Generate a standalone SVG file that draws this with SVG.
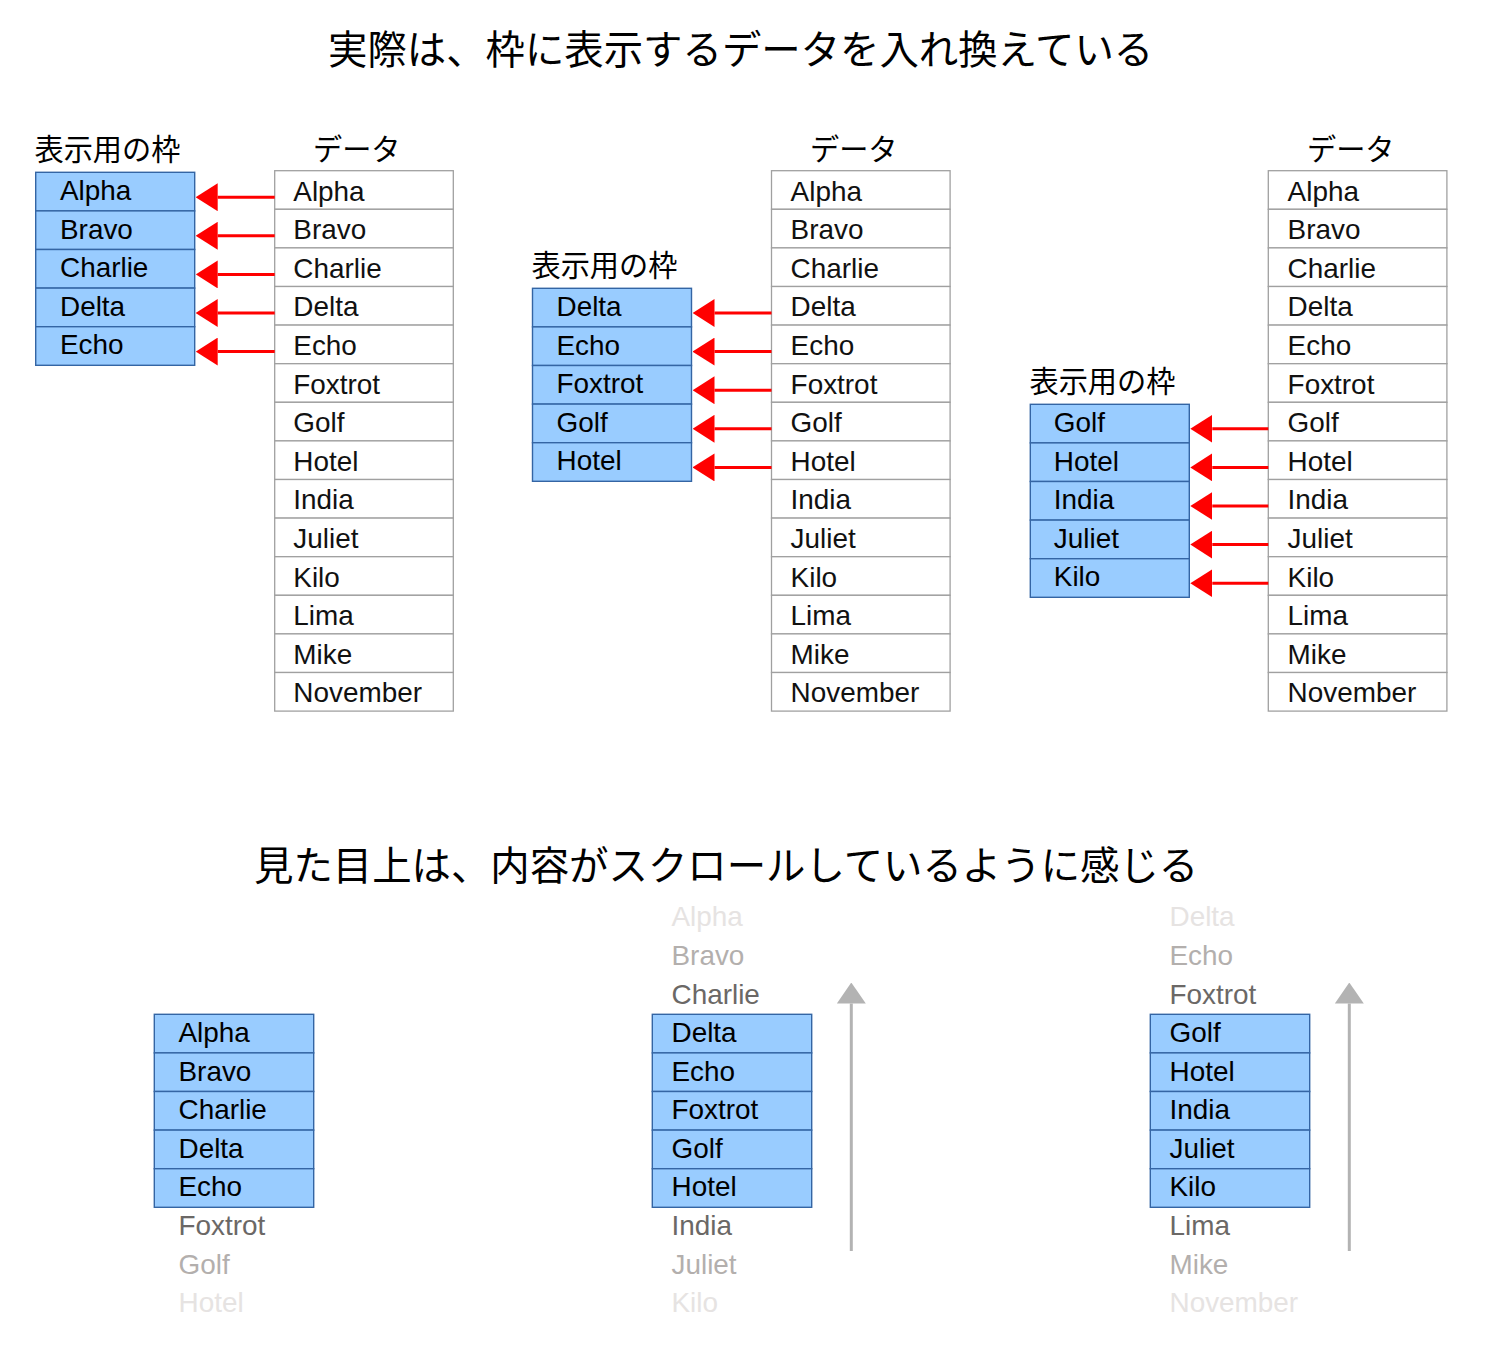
<svg xmlns="http://www.w3.org/2000/svg" width="1491" height="1349" viewBox="0 0 1491 1349">
<style>
.title{font-family:"Noto Sans CJK JP","Noto Sans",sans-serif;font-size:39.4px;fill:#000}
.lbl{font-family:"Noto Sans CJK JP","Noto Sans",sans-serif;font-size:29.2px;fill:#000}
.t{font-family:"Liberation Sans",Arial,sans-serif;font-size:27.9px}
.dt{fill:#111}
.ft{fill:#000}
.drow{fill:#fff;stroke:#a0a0a0;stroke-width:1.3}
.frow{fill:#99ccff;stroke:#3465a4;stroke-width:1.4}
.l1{fill:#6b6866}
.l2{fill:#b3afad}
.l3{fill:#e6e3e2}
.red{stroke:#ff0000;stroke-width:3;fill:none}
.gray{stroke:#b3b3b3;stroke-width:3;fill:none}
</style>
<defs>
<marker id="ra" markerUnits="userSpaceOnUse" viewBox="0 0 22 28" refX="0" refY="14" markerWidth="22" markerHeight="28" orient="auto">
<path d="M0,0 L22,14 L0,28 Z" fill="#ff0000"/>
</marker>
<marker id="ga" markerUnits="userSpaceOnUse" viewBox="0 0 21 29" refX="0" refY="14.5" markerWidth="21" markerHeight="29" orient="auto">
<path d="M0,0 L21,14.5 L0,29 Z" fill="#b3b3b3"/>
</marker>
</defs>

<text class="title" x="328" y="63.5">実際は、枠に表示するデータを入れ換えている</text>
<text class="title" x="254" y="879.5">見た目上は、内容がスクロールしているように感じる</text>

<g id="label-frame1"><text class="lbl" x="34.5" y="159.5">表示用の枠</text></g>
<g id="label-frame2"><text class="lbl" x="531.5" y="275.5">表示用の枠</text></g>
<g id="label-frame3"><text class="lbl" x="1029.5" y="391.5">表示用の枠</text></g>
<g id="label-data1"><text class="lbl" x="313" y="159.5">データ</text></g>
<g id="label-data2"><text class="lbl" x="810" y="159.5">データ</text></g>
<g id="label-data3"><text class="lbl" x="1307" y="159.5">データ</text></g>

<!-- data table 1 -->
<g id="data1">
<rect class="drow" x="274.7" y="170.7" width="178.6" height="38.6"/>
<rect class="drow" x="274.7" y="209.3" width="178.6" height="38.6"/>
<rect class="drow" x="274.7" y="247.9" width="178.6" height="38.6"/>
<rect class="drow" x="274.7" y="286.5" width="178.6" height="38.6"/>
<rect class="drow" x="274.7" y="325.1" width="178.6" height="38.6"/>
<rect class="drow" x="274.7" y="363.7" width="178.6" height="38.6"/>
<rect class="drow" x="274.7" y="402.3" width="178.6" height="38.6"/>
<rect class="drow" x="274.7" y="440.9" width="178.6" height="38.6"/>
<rect class="drow" x="274.7" y="479.5" width="178.6" height="38.6"/>
<rect class="drow" x="274.7" y="518.1" width="178.6" height="38.6"/>
<rect class="drow" x="274.7" y="556.7" width="178.6" height="38.6"/>
<rect class="drow" x="274.7" y="595.3" width="178.6" height="38.6"/>
<rect class="drow" x="274.7" y="633.9" width="178.6" height="38.6"/>
<rect class="drow" x="274.7" y="672.5" width="178.6" height="38.6"/>
<g class="t dt">
<text x="293.3" y="200.5">Alpha</text>
<text x="293.3" y="239.1">Bravo</text>
<text x="293.3" y="277.7">Charlie</text>
<text x="293.3" y="316.3">Delta</text>
<text x="293.3" y="354.9">Echo</text>
<text x="293.3" y="393.5">Foxtrot</text>
<text x="293.3" y="432.1">Golf</text>
<text x="293.3" y="470.7">Hotel</text>
<text x="293.3" y="509.3">India</text>
<text x="293.3" y="547.9">Juliet</text>
<text x="293.3" y="586.5">Kilo</text>
<text x="293.3" y="625.1">Lima</text>
<text x="293.3" y="663.7">Mike</text>
<text x="293.3" y="702.3">November</text>
</g>
</g>

<!-- data table 2 -->
<g id="data2">
<rect class="drow" x="771.5" y="170.7" width="178.6" height="38.6"/>
<rect class="drow" x="771.5" y="209.3" width="178.6" height="38.6"/>
<rect class="drow" x="771.5" y="247.9" width="178.6" height="38.6"/>
<rect class="drow" x="771.5" y="286.5" width="178.6" height="38.6"/>
<rect class="drow" x="771.5" y="325.1" width="178.6" height="38.6"/>
<rect class="drow" x="771.5" y="363.7" width="178.6" height="38.6"/>
<rect class="drow" x="771.5" y="402.3" width="178.6" height="38.6"/>
<rect class="drow" x="771.5" y="440.9" width="178.6" height="38.6"/>
<rect class="drow" x="771.5" y="479.5" width="178.6" height="38.6"/>
<rect class="drow" x="771.5" y="518.1" width="178.6" height="38.6"/>
<rect class="drow" x="771.5" y="556.7" width="178.6" height="38.6"/>
<rect class="drow" x="771.5" y="595.3" width="178.6" height="38.6"/>
<rect class="drow" x="771.5" y="633.9" width="178.6" height="38.6"/>
<rect class="drow" x="771.5" y="672.5" width="178.6" height="38.6"/>
<g class="t dt">
<text x="790.6" y="200.5">Alpha</text>
<text x="790.6" y="239.1">Bravo</text>
<text x="790.6" y="277.7">Charlie</text>
<text x="790.6" y="316.3">Delta</text>
<text x="790.6" y="354.9">Echo</text>
<text x="790.6" y="393.5">Foxtrot</text>
<text x="790.6" y="432.1">Golf</text>
<text x="790.6" y="470.7">Hotel</text>
<text x="790.6" y="509.3">India</text>
<text x="790.6" y="547.9">Juliet</text>
<text x="790.6" y="586.5">Kilo</text>
<text x="790.6" y="625.1">Lima</text>
<text x="790.6" y="663.7">Mike</text>
<text x="790.6" y="702.3">November</text>
</g>
</g>

<!-- data table 3 -->
<g id="data3">
<rect class="drow" x="1268.3" y="170.7" width="178.6" height="38.6"/>
<rect class="drow" x="1268.3" y="209.3" width="178.6" height="38.6"/>
<rect class="drow" x="1268.3" y="247.9" width="178.6" height="38.6"/>
<rect class="drow" x="1268.3" y="286.5" width="178.6" height="38.6"/>
<rect class="drow" x="1268.3" y="325.1" width="178.6" height="38.6"/>
<rect class="drow" x="1268.3" y="363.7" width="178.6" height="38.6"/>
<rect class="drow" x="1268.3" y="402.3" width="178.6" height="38.6"/>
<rect class="drow" x="1268.3" y="440.9" width="178.6" height="38.6"/>
<rect class="drow" x="1268.3" y="479.5" width="178.6" height="38.6"/>
<rect class="drow" x="1268.3" y="518.1" width="178.6" height="38.6"/>
<rect class="drow" x="1268.3" y="556.7" width="178.6" height="38.6"/>
<rect class="drow" x="1268.3" y="595.3" width="178.6" height="38.6"/>
<rect class="drow" x="1268.3" y="633.9" width="178.6" height="38.6"/>
<rect class="drow" x="1268.3" y="672.5" width="178.6" height="38.6"/>
<g class="t dt">
<text x="1287.6" y="200.5">Alpha</text>
<text x="1287.6" y="239.1">Bravo</text>
<text x="1287.6" y="277.7">Charlie</text>
<text x="1287.6" y="316.3">Delta</text>
<text x="1287.6" y="354.9">Echo</text>
<text x="1287.6" y="393.5">Foxtrot</text>
<text x="1287.6" y="432.1">Golf</text>
<text x="1287.6" y="470.7">Hotel</text>
<text x="1287.6" y="509.3">India</text>
<text x="1287.6" y="547.9">Juliet</text>
<text x="1287.6" y="586.5">Kilo</text>
<text x="1287.6" y="625.1">Lima</text>
<text x="1287.6" y="663.7">Mike</text>
<text x="1287.6" y="702.3">November</text>
</g>
</g>

<!-- frame 1 -->
<g id="frame1">
<rect class="frow" x="35.7" y="172.3" width="159" height="38.6"/>
<rect class="frow" x="35.7" y="210.9" width="159" height="38.6"/>
<rect class="frow" x="35.7" y="249.5" width="159" height="38.6"/>
<rect class="frow" x="35.7" y="288.1" width="159" height="38.6"/>
<rect class="frow" x="35.7" y="326.7" width="159" height="38.6"/>
<g class="t ft">
<text x="60" y="200">Alpha</text>
<text x="60" y="238.6">Bravo</text>
<text x="60" y="277.2">Charlie</text>
<text x="60" y="315.8">Delta</text>
<text x="60" y="354.4">Echo</text>
</g>
</g>

<!-- frame 2 -->
<g id="frame2">
<rect class="frow" x="532.5" y="288.3" width="159" height="38.6"/>
<rect class="frow" x="532.5" y="326.9" width="159" height="38.6"/>
<rect class="frow" x="532.5" y="365.5" width="159" height="38.6"/>
<rect class="frow" x="532.5" y="404.1" width="159" height="38.6"/>
<rect class="frow" x="532.5" y="442.7" width="159" height="38.6"/>
<g class="t ft">
<text x="556.5" y="316">Delta</text>
<text x="556.5" y="354.6">Echo</text>
<text x="556.5" y="393.2">Foxtrot</text>
<text x="556.5" y="431.8">Golf</text>
<text x="556.5" y="470.4">Hotel</text>
</g>
</g>

<!-- frame 3 -->
<g id="frame3">
<rect class="frow" x="1030.3" y="404.3" width="159" height="38.6"/>
<rect class="frow" x="1030.3" y="442.9" width="159" height="38.6"/>
<rect class="frow" x="1030.3" y="481.5" width="159" height="38.6"/>
<rect class="frow" x="1030.3" y="520.1" width="159" height="38.6"/>
<rect class="frow" x="1030.3" y="558.7" width="159" height="38.6"/>
<g class="t ft">
<text x="1053.8" y="432">Golf</text>
<text x="1053.8" y="470.6">Hotel</text>
<text x="1053.8" y="509.2">India</text>
<text x="1053.8" y="547.8">Juliet</text>
<text x="1053.8" y="586.4">Kilo</text>
</g>
</g>

<!-- bottom view 1 -->
<g id="view1">
<rect class="frow" x="154.3" y="1014.3" width="159.4" height="38.6"/>
<rect class="frow" x="154.3" y="1052.9" width="159.4" height="38.6"/>
<rect class="frow" x="154.3" y="1091.5" width="159.4" height="38.6"/>
<rect class="frow" x="154.3" y="1130.1" width="159.4" height="38.6"/>
<rect class="frow" x="154.3" y="1168.7" width="159.4" height="38.6"/>
<g class="t">
<text class="ft" x="178.5" y="1042">Alpha</text>
<text class="ft" x="178.5" y="1080.6">Bravo</text>
<text class="ft" x="178.5" y="1119.2">Charlie</text>
<text class="ft" x="178.5" y="1157.8">Delta</text>
<text class="ft" x="178.5" y="1196.4">Echo</text>
<text class="l1" x="178.5" y="1235">Foxtrot</text>
<text class="l2" x="178.5" y="1273.6">Golf</text>
<text class="l3" x="178.5" y="1312.2">Hotel</text>
</g>
</g>

<!-- bottom view 2 -->
<g id="view2">
<rect class="frow" x="652.3" y="1014.3" width="159.4" height="38.6"/>
<rect class="frow" x="652.3" y="1052.9" width="159.4" height="38.6"/>
<rect class="frow" x="652.3" y="1091.5" width="159.4" height="38.6"/>
<rect class="frow" x="652.3" y="1130.1" width="159.4" height="38.6"/>
<rect class="frow" x="652.3" y="1168.7" width="159.4" height="38.6"/>
<g class="t">
<text class="l3" x="671.5" y="926.4">Alpha</text>
<text class="l2" x="671.5" y="965">Bravo</text>
<text class="l1" x="671.5" y="1003.6">Charlie</text>
<text class="ft" x="671.5" y="1042">Delta</text>
<text class="ft" x="671.5" y="1080.6">Echo</text>
<text class="ft" x="671.5" y="1119.2">Foxtrot</text>
<text class="ft" x="671.5" y="1157.8">Golf</text>
<text class="ft" x="671.5" y="1196.4">Hotel</text>
<text class="l1" x="671.5" y="1235">India</text>
<text class="l2" x="671.5" y="1273.6">Juliet</text>
<text class="l3" x="671.5" y="1312.2">Kilo</text>
</g>
</g>

<!-- bottom view 3 -->
<g id="view3">
<rect class="frow" x="1150.3" y="1014.3" width="159.4" height="38.6"/>
<rect class="frow" x="1150.3" y="1052.9" width="159.4" height="38.6"/>
<rect class="frow" x="1150.3" y="1091.5" width="159.4" height="38.6"/>
<rect class="frow" x="1150.3" y="1130.1" width="159.4" height="38.6"/>
<rect class="frow" x="1150.3" y="1168.7" width="159.4" height="38.6"/>
<g class="t">
<text class="l3" x="1169.5" y="926.4">Delta</text>
<text class="l2" x="1169.5" y="965">Echo</text>
<text class="l1" x="1169.5" y="1003.6">Foxtrot</text>
<text class="ft" x="1169.5" y="1042">Golf</text>
<text class="ft" x="1169.5" y="1080.6">Hotel</text>
<text class="ft" x="1169.5" y="1119.2">India</text>
<text class="ft" x="1169.5" y="1157.8">Juliet</text>
<text class="ft" x="1169.5" y="1196.4">Kilo</text>
<text class="l1" x="1169.5" y="1235">Lima</text>
<text class="l2" x="1169.5" y="1273.6">Mike</text>
<text class="l3" x="1169.5" y="1312.2">November</text>
</g>
</g>

<g id="connectors">
<line class="red" marker-end="url(#ra)" x1="274.7" y1="197.2" x2="217.7" y2="197.2"/>
<line class="red" marker-end="url(#ra)" x1="274.7" y1="235.8" x2="217.7" y2="235.8"/>
<line class="red" marker-end="url(#ra)" x1="274.7" y1="274.4" x2="217.7" y2="274.4"/>
<line class="red" marker-end="url(#ra)" x1="274.7" y1="313" x2="217.7" y2="313"/>
<line class="red" marker-end="url(#ra)" x1="274.7" y1="351.6" x2="217.7" y2="351.6"/>

<line class="red" marker-end="url(#ra)" x1="771.5" y1="313" x2="714.5" y2="313"/>
<line class="red" marker-end="url(#ra)" x1="771.5" y1="351.6" x2="714.5" y2="351.6"/>
<line class="red" marker-end="url(#ra)" x1="771.5" y1="390.2" x2="714.5" y2="390.2"/>
<line class="red" marker-end="url(#ra)" x1="771.5" y1="428.8" x2="714.5" y2="428.8"/>
<line class="red" marker-end="url(#ra)" x1="771.5" y1="467.4" x2="714.5" y2="467.4"/>

<line class="red" marker-end="url(#ra)" x1="1268.3" y1="428.8" x2="1212.3" y2="428.8"/>
<line class="red" marker-end="url(#ra)" x1="1268.3" y1="467.4" x2="1212.3" y2="467.4"/>
<line class="red" marker-end="url(#ra)" x1="1268.3" y1="506" x2="1212.3" y2="506"/>
<line class="red" marker-end="url(#ra)" x1="1268.3" y1="544.6" x2="1212.3" y2="544.6"/>
<line class="red" marker-end="url(#ra)" x1="1268.3" y1="583.2" x2="1212.3" y2="583.2"/>

<line class="gray" marker-end="url(#ga)" x1="851.3" y1="1251" x2="851.3" y2="1003.5"/>
<line class="gray" marker-end="url(#ga)" x1="1349.3" y1="1251" x2="1349.3" y2="1003.5"/>
</g>
</svg>
